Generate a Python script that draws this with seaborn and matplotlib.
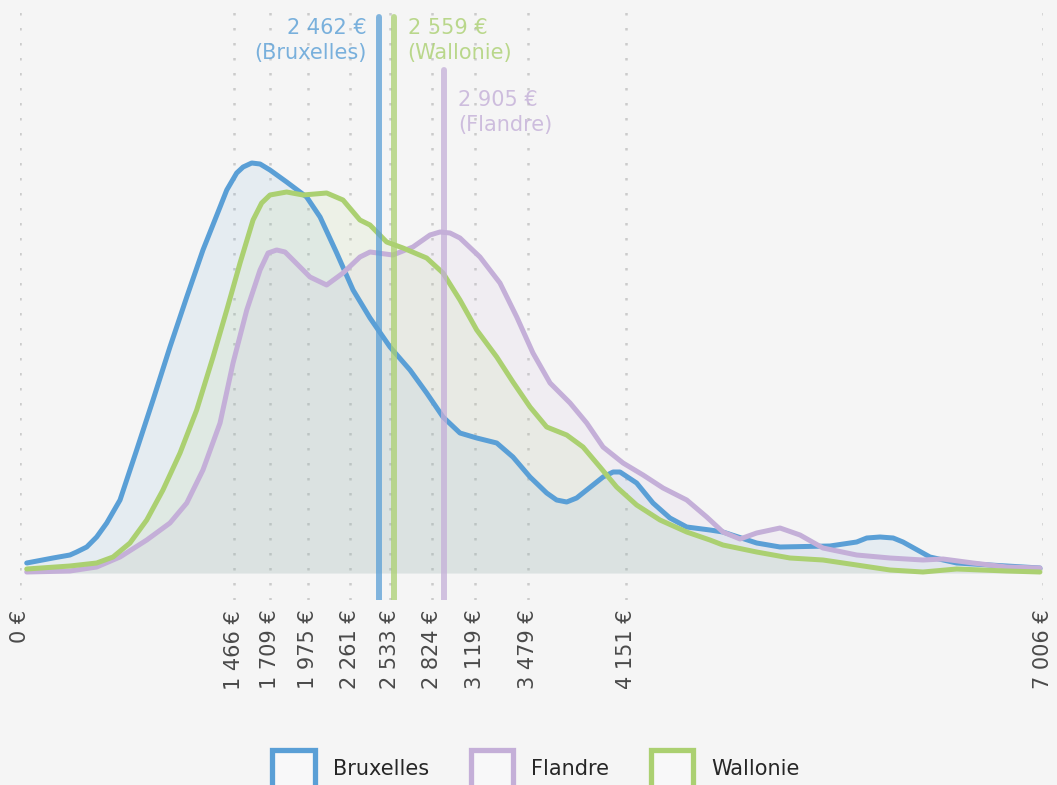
import matplotlib
matplotlib.use("Agg")
import matplotlib.pyplot as plt
from matplotlib.patches import Patch
import seaborn as sns
import pandas as pd

# valeurs (salaire brut en €, densité relative)
bxl_x = [46, 226, 342, 388, 457, 525, 594, 685, 799, 911, 1027, 1142, 1253, 1370, 1416, 1484, 1528, 1587, 1644, 1712,
         1826, 1963, 2055, 2169, 2281, 2397, 2534, 2671, 2785, 2897, 3013, 3128, 3265, 3376, 3493, 3607, 3675, 3744,
         3812, 3881, 3993, 4062, 4109, 4223, 4335, 4451, 4566, 4725, 4814, 5045, 5205, 5547, 5730, 5799, 5890, 5980,
         6047, 6232, 6415, 6643, 6985]
bxl_y = [10, 15, 18, 21, 26, 36, 50, 73, 123, 173, 226, 276, 323, 366, 383, 400, 406, 410, 409, 403,
         391, 376, 356, 320, 283, 255, 226, 203, 180, 156, 140, 135, 130, 116, 96, 80, 73, 71,
         75, 83, 96, 101, 101, 90, 70, 55, 46, 43, 41, 30, 26, 27, 31, 35, 36, 35,
         31, 16, 10, 8, 5]

fla_x = [46, 342, 525, 685, 868, 1027, 1142, 1253, 1370, 1459, 1553, 1644, 1699, 1758, 1815, 1870, 1986, 2100, 2212,
         2328, 2397, 2554, 2691, 2808, 2876, 2945, 3013, 3150, 3287, 3402, 3513, 3630, 3767, 3881, 3993, 4130, 4267,
         4404, 4566, 4703, 4814, 4931, 5045, 5205, 5342, 5499, 5730, 5958, 6184, 6321, 6527, 6757, 6985]
fla_y = [1, 2, 6, 16, 33, 50, 70, 103, 150, 210, 263, 303, 320, 323, 321, 313, 296, 288, 300,
         316, 321, 318, 326, 338, 341, 340, 335, 316, 290, 256, 220, 190, 170, 150, 126, 110, 98,
         85, 73, 56, 41, 34, 40, 45, 38, 25, 18, 15, 13, 14, 10, 6, 5]

wal_x = [46, 342, 525, 637, 753, 868, 979, 1096, 1210, 1322, 1416, 1507, 1596, 1655, 1712, 1826, 1938, 2100, 2212,
         2328, 2397, 2511, 2623, 2785, 2897, 3013, 3128, 3265, 3376, 3493, 3607, 3744, 3856, 3972, 4086, 4223, 4383,
         4566, 4725, 4814, 5045, 5273, 5499, 5730, 5958, 6184, 6415, 6757, 6985]
wal_y = [4, 7, 10, 16, 30, 53, 83, 120, 163, 216, 263, 310, 353, 370, 378, 381, 378, 380, 373,
         353, 348, 331, 325, 315, 300, 273, 243, 216, 191, 166, 146, 138, 126, 106, 86, 68, 53,
         41, 33, 28, 21, 15, 13, 8, 3, 1, 4, 2, 1]

regions = ['Bruxelles', 'Flandre', 'Wallonie']
medianes = {'Bruxelles': 2462, 'Flandre': 2905, 'Wallonie': 2559}
ticks = [0, 1466, 1709, 1975, 2261, 2533, 2824, 3119, 3479, 4151, 7006]

couleurs = {'Bruxelles': '#5a9fd6', 'Flandre': '#c4afd8', 'Wallonie': '#abd071'}
fond = '#f5f5f5'

df = pd.concat([
    pd.DataFrame({'salaire': bxl_x, 'densite': bxl_y, 'region': 'Bruxelles'}),
    pd.DataFrame({'salaire': fla_x, 'densite': fla_y, 'region': 'Flandre'}),
    pd.DataFrame({'salaire': wal_x, 'densite': wal_y, 'region': 'Wallonie'}),
], ignore_index=True)

sns.set_style("white")
plt.rcParams['font.family'] = ['DejaVu Sans']

fig = plt.figure(figsize=(10.57, 7.85), dpi=100, facecolor=fond)
ax = fig.add_axes([20 / 1057, 185 / 785, 1023 / 1057, 600 / 785])
ax.set_facecolor(fond)

# aires translucides sous les courbes
for r in regions:
    sub = df[df.region == r]
    ax.fill_between(sub.salaire, sub.densite, color=couleurs[r], alpha=0.1, lw=0)

sns.lineplot(data=df, x='salaire', y='densite', hue='region', hue_order=regions,
             palette=couleurs, estimator=None, lw=3.6, legend=False, ax=ax)
for ln in ax.lines:
    ln.set_solid_joinstyle('round')
    ln.set_solid_capstyle('round')

# lignes des médianes + étiquettes
haut = {'Bruxelles': 0.972, 'Flandre': 0.883, 'Wallonie': 0.972}
pos_txt = {'Bruxelles': (0.932, -9, 'right'), 'Flandre': (0.813, 10, 'left'), 'Wallonie': (0.932, 10, 'left')}
for r in regions:
    ax.axvline(medianes[r], ymin=0, ymax=haut[r], color=couleurs[r], alpha=0.75, lw=4.3, zorder=3)
    y, dx, ha = pos_txt[r]
    lab = f"{medianes[r]:,} €".replace(',', ' ') + f"\n({r})"
    ax.annotate(lab, xy=(medianes[r], y), xycoords=('data', 'axes fraction'),
                xytext=(dx, 0), textcoords='offset points', ha=ha, va='center',
                color=couleurs[r], alpha=0.8, fontsize=15, linespacing=1.3, zorder=4)

ax.set_xlim(0, 7006)
ax.set_ylim(-27, 573)
ax.set_xticks(ticks)
ax.set_xticklabels([f"{t:,} €".replace(',', ' ') for t in ticks], rotation=90, fontsize=15, color='#4a4a4a')
ax.set_yticks([])
ax.tick_params(axis='x', length=0, pad=7)
ax.grid(axis='x', color='#cbcbcb', linestyle=(0, (1, 5)), lw=1.8)
ax.set_xlabel('')
ax.set_ylabel('')
sns.despine(ax=ax, left=True, bottom=True)

handles = [Patch(facecolor='#f8f8f9', edgecolor=couleurs[r], lw=3.8, label=r) for r in regions]
fig.legend(handles=handles, loc='center', bbox_to_anchor=(536 / 1057, 1 - 769 / 785), ncol=3,
           frameon=False, fontsize=15, handlelength=2.05, handleheight=2.5,
           handletextpad=0.85, columnspacing=2.0)

fig.savefig('out.png', dpi=100, facecolor=fond)
